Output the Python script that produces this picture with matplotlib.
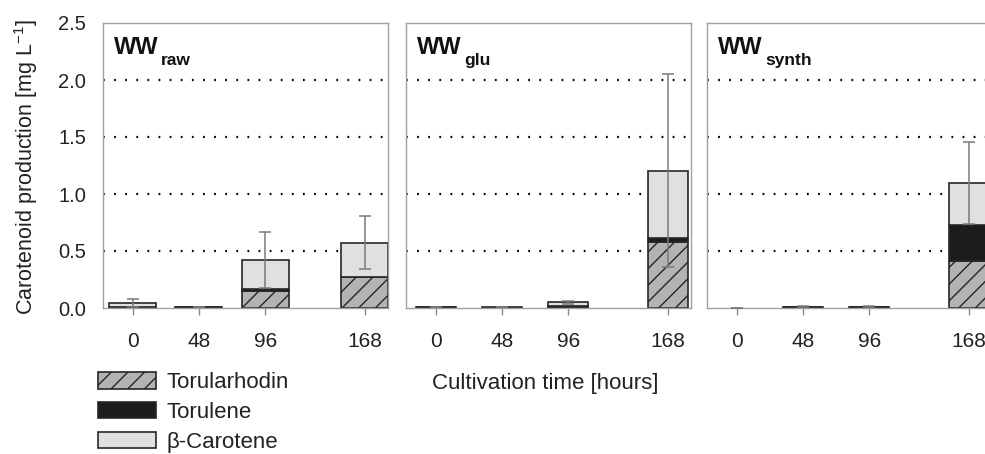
import matplotlib.pyplot as plt
from matplotlib.patches import Patch

plt.rcParams['font.family'] = ['Liberation Sans', 'DejaVu Sans']
plt.rcParams['mathtext.fontset'] = 'custom'
plt.rcParams['mathtext.rm'] = 'Liberation Sans'
plt.rcParams['hatch.linewidth'] = 1.0

hours = [0, 48, 96, 168]
media = ['raw', 'glu', 'synth']

# mean carotenoid content per pigment (mg/L), stacked bottom to top
torularhodin = {
    'raw':   [0.005, 0.004, 0.150, 0.270],
    'glu':   [0.004, 0.002, 0.012, 0.580],
    'synth': [0.000, 0.005, 0.005, 0.415],
}
torulene = {
    'raw':   [0.000, 0.003, 0.015, 0.005],
    'glu':   [0.002, 0.001, 0.003, 0.030],
    'synth': [0.000, 0.003, 0.003, 0.310],
}
carotene = {
    'raw':   [0.035, 0.003, 0.255, 0.298],
    'glu':   [0.004, 0.002, 0.035, 0.595],
    'synth': [0.000, 0.004, 0.004, 0.370],
}
# standard deviation of the total
total_sd = {
    'raw':   [0.035, 0.000, 0.245, 0.235],
    'glu':   [0.002, 0.000, 0.015, 0.845],
    'synth': [0.004, 0.004, 0.004, 0.360],
}
bar_width = {'raw': 34, 'glu': 29, 'synth': 29}

c_rhodin = '#b3b3b3'
c_torulene = '#1c1c1c'
c_carotene = '#e0e0e0'
edge = '#262626'
txt = '#222222'

fig = plt.figure(figsize=(9.85, 4.54), dpi=100)
lefts = [103, 406, 707]
for k, m in enumerate(media):
    ax = fig.add_axes([lefts[k] / 985, 1 - 308 / 454, 285 / 985, 285 / 454])

    r = torularhodin[m]
    t = torulene[m]
    c = carotene[m]
    base2 = [a + b for a, b in zip(r, t)]
    total = [a + b for a, b in zip(base2, c)]
    w = bar_width[m]

    for gy in [0.5, 1.0, 1.5, 2.0]:
        ax.axhline(gy, color='black', lw=1.6, ls=(0, (0.8, 4.2)), zorder=1)

    lw_r = [1.2 if v > 0 else 0 for v in r]
    lw_t = [1.2 if v > 0 else 0 for v in t]
    lw_c = [1.2 if v > 0 else 0 for v in c]
    ax.bar(hours, r, width=w, color=c_rhodin, edgecolor=edge, hatch='//',
           linewidth=lw_r, zorder=2)
    ax.bar(hours, t, width=w, bottom=r, color=c_torulene, edgecolor=edge,
           linewidth=lw_t, zorder=2)
    ax.bar(hours, c, width=w, bottom=base2, color=c_carotene, edgecolor=edge,
           linewidth=lw_c, zorder=2)
    ax.errorbar(hours, total, yerr=total_sd[m], fmt='none', ecolor='#7a7a7a',
                elinewidth=1.1, capsize=4.3, capthick=1.1, zorder=3)

    ax.set_xlim(-21.5, 185)
    ax.set_ylim(0, 2.5)
    ax.set_xticks(hours)
    ax.set_xticklabels([str(h) for h in hours])
    ax.tick_params(axis='x', length=5, width=1, color='#888888', pad=12,
                   labelsize=15, labelcolor=txt)
    for s in ax.spines.values():
        s.set_color('#a0a0a0')
        s.set_linewidth(1.0)
    if k == 0:
        ax.set_yticks([0, 0.5, 1.0, 1.5, 2.0, 2.5])
        ax.set_yticklabels(['0.0', '0.5', '1.0', '1.5', '2.0', '2.5'])
        ax.tick_params(axis='y', length=0, pad=12, labelsize=14.5,
                       labelcolor=txt)
    else:
        ax.set_yticks([])

    ww = ax.text(0.04, 0.955, 'WW', transform=ax.transAxes, fontsize=17,
                 fontweight='bold', ha='left', va='top', color='#111111')
    ax.annotate(m, xy=(1, 0), xycoords=ww, xytext=(1.5, -4.5),
                textcoords='offset points', fontsize=12.5, fontweight='bold',
                ha='left', va='baseline', color='#111111')

fig.text(26 / 985, 1 - 167 / 454, 'Carotenoid production [mg L$^{-1}$]',
         rotation=90, ha='center', va='center', fontsize=15.5, color=txt)
fig.text(545 / 985, 1 - 384 / 454, 'Cultivation time [hours]',
         ha='center', va='center', fontsize=16, color=txt)

handles = [
    Patch(facecolor=c_rhodin, edgecolor=edge, hatch='//', linewidth=1.2),
    Patch(facecolor=c_torulene, edgecolor=edge, linewidth=1.2),
    Patch(facecolor=c_carotene, edgecolor=edge, linewidth=1.2),
]
fig.legend(handles, ['Torularhodin', 'Torulene', 'β-Carotene'],
           loc='upper left', bbox_to_anchor=(98 / 985, 1 - 372 / 454),
           frameon=False, fontsize=16, handlelength=2.6, handleheight=0.77,
           handletextpad=0.5, labelspacing=0.4, borderpad=0, borderaxespad=0,
           labelcolor=txt)

fig.savefig('out.png', dpi=100)
